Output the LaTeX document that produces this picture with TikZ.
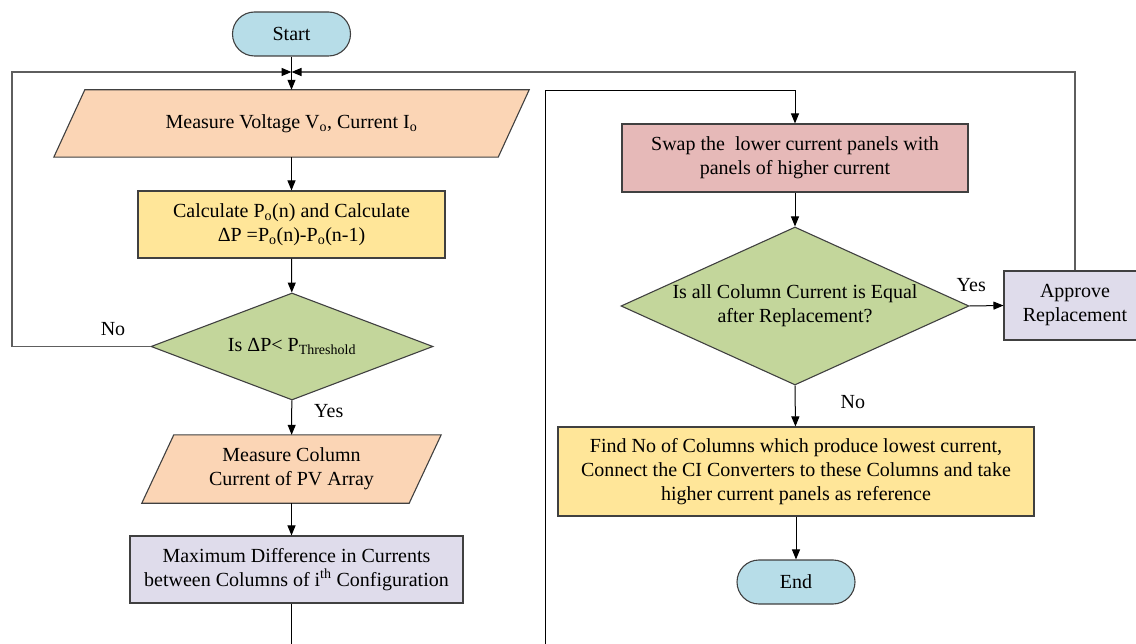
\documentclass[tikz,border=0pt]{standalone}
\usepackage{fontspec}
\setmainfont{Liberation Serif}
\usetikzlibrary{shapes.geometric,arrows.meta}
\pgfdeclarelayer{background}
\pgfsetlayers{background,main}
\definecolor{termfill}{HTML}{B7DDE8}
\definecolor{iofill}{HTML}{FBD5B5}
\definecolor{yelfill}{HTML}{FFE699}
\definecolor{decfill}{HTML}{C3D69B}
\definecolor{lavfill}{HTML}{DFDCEB}
\definecolor{pinkfill}{HTML}{E6B9B8}
\definecolor{edgecol}{HTML}{404040}
\definecolor{loopcol}{HTML}{5E5E5E}
\begin{document}
\begin{tikzpicture}[x=1pt,y=-1pt,
  every node/.style={font=\fontsize{20}{24}\selectfont, align=center, inner sep=0pt},
  base/.style={draw=edgecol, line width=1.1pt},
  term/.style={base, fill=termfill, rectangle, rounded corners=22pt, minimum width=118pt, minimum height=44pt},
  iotext/.style={rectangle},
  procbox/.style={base, rectangle},
  decbox/.style={base, fill=decfill, diamond},
  arr/.style={-{Triangle[length=10pt,width=8pt]}, line width=1pt, black},
  loopline/.style={-{Triangle[length=10pt,width=8pt,black]}, line width=1.4pt, draw=loopcol},
  lbl/.style={font=\fontsize{20}{24}\selectfont}
]
\useasboundingbox (0,0) rectangle (1136,644);

% left column
\node[term] (start) at (291.5,34) {Start};
\node[iotext, minimum width=444pt, minimum height=67pt] (m1) at (291.5,123.5) {Measure Voltage V\textsubscript{o}, Current I\textsubscript{o}};
\node[procbox, fill=yelfill, minimum width=307pt, minimum height=67pt] (calc) at (291.5,224.5)
  {Calculate P\textsubscript{o}(n) and Calculate\\ΔP =P\textsubscript{o}(n)-P\textsubscript{o}(n-1)};
\node[decbox, minimum width=282pt, minimum height=107pt,
  label={[lbl]center:Is ΔP< P\textsubscript{Threshold}}] (d1) at (292,346.5) {};
\node[iotext, minimum width=267pt, minimum height=68pt] (m2) at (291.5,469) {Measure Column\\Current of PV Array};
\node[procbox, fill=lavfill, minimum width=333pt, minimum height=67pt] (maxd) at (296.5,569.5)
  {Maximum Difference in Currents\\between Columns of i\textsuperscript{th} Configuration};

% parallelogram outlines behind the two input nodes
\begin{pgfonlayer}{background}
\draw[base, fill=iofill] ([xshift=-15.5pt]m1.south west) -- ([xshift=15.5pt]m1.north west)
  -- ([xshift=15.5pt]m1.north east) -- ([xshift=-15.5pt]m1.south east) -- cycle;
\draw[base, fill=iofill] ([xshift=-16pt]m2.south west) -- ([xshift=16pt]m2.north west)
  -- ([xshift=16pt]m2.north east) -- ([xshift=-16pt]m2.south east) -- cycle;
\end{pgfonlayer}

% right column
\node[procbox, fill=pinkfill, minimum width=346pt, minimum height=68pt] (swap) at (795,158)
  {Swap the\ \ lower current panels with\\panels of higher current};
\node[decbox, minimum width=348pt, minimum height=158pt,
  label={[lbl]center:Is all Column Current is Equal\\after Replacement?}] (d2) at (795,306) {};
\node[procbox, fill=lavfill, minimum width=142pt, minimum height=69pt] (appr) at (1075,305.5)
  {Approve\\Replacement};
\node[procbox, fill=yelfill, minimum width=476pt, minimum height=89pt] (find) at (796,471.5)
  {Find No of Columns which produce lowest current,\\Connect the CI Converters to these Columns and take\\higher current panels as reference};
\node[term] (end) at (796,582) {End};

% junction coordinates
\coordinate (jn) at (291.5,72);
\coordinate (lc) at (12,72);
\coordinate (b1) at (291.5,660);
\coordinate (b2) at (545,660);
\coordinate (t2) at (545,91);

% connectors
\draw[arr] (start) -- (m1);
\draw[arr] (m1) -- (calc);
\draw[arr] (calc) -- (d1);
\draw[arr] (d1) -- node[pos=0.3, right=22pt, lbl] {Yes} (m2);
\draw[arr] (m2.south) -- (m2.south |- maxd.north);
\draw[loopline] (d1.west) -| (lc) -- (jn);
\node[lbl] at (113,329) {No};
\draw[loopline] (appr.north) |- (jn);
\draw[arr] (m2.south |- maxd.south) -- (b1) -- (b2) -- (t2) -| (swap.north);
\draw[arr] (swap) -- (d2);
\draw[arr] (d2.east) -- node[above=14pt, pos=0.05, lbl] {Yes} (appr.west);
\draw[arr] (d2.south) -- node[pos=0.4, right=45pt, lbl] {No} (find);
\draw[arr] (find) -- (end);
\end{tikzpicture}
\end{document}
